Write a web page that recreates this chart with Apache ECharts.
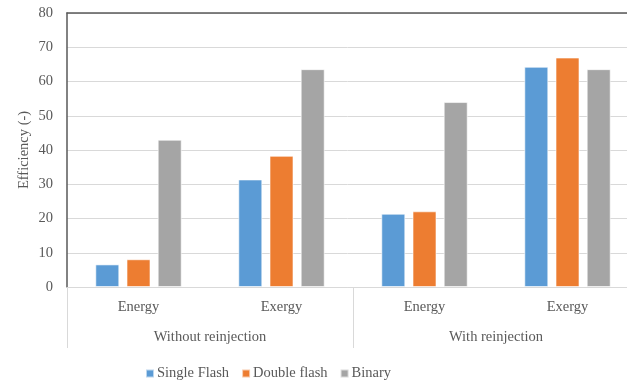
<!DOCTYPE html>
<html><head><meta charset="utf-8">
<script src="https://cdn.jsdelivr.net/npm/echarts@6/dist/echarts.min.js"></script>
<style>html,body{margin:0;padding:0;background:#fff}#c{width:627px;height:380px}</style>
</head><body><div id="c"></div>
<script>
const categories = ["Energy", "Exergy", "Energy", "Exergy"];
const groups = ["Without reinjection", "With reinjection"];
const singleFlash = [6.6, 31.4, 21.4, 64.3];
const doubleFlash = [8.1, 38.3, 22.1, 67.0];
const binary = [43.0, 63.6, 54.0, 63.6];
const seriesNames = ["Single Flash", "Double flash", "Binary"];
const colors = ["#5B9BD5", "#ED7D31", "#A5A5A5"];
const FONT = "Liberation Serif";
const FS = 14.5;
const chart = echarts.init(document.getElementById('c'));
const mk = (name, data, color) => ({
  name, type: 'bar', data, barWidth: 24, barGap: '30%',
  itemStyle: { color, borderColor: 'rgba(255,255,255,0.6)', borderWidth: 1 },
  xAxisIndex: 0, yAxisIndex: 0
});
chart.setOption({
  animation: false,
  textStyle: { fontFamily: FONT },
  grid: { left: 67, top: 13, width: 572, height: 274, containLabel: false, outerBoundsMode: 'none' },
  legend: {
    left: 140, top: 361, itemWidth: 8, itemHeight: 8, itemGap: 12,
    textStyle: { fontFamily: FONT, fontSize: FS, color: '#595959', padding: [0,0,0,-2] },
    icon: 'rect',
    data: seriesNames
  },
  xAxis: [
    { type: 'category', data: categories, position: 'bottom',
      axisLine: { lineStyle: { color: '#D9D9D9' } },
      axisTick: { show: false },
      axisLabel: { fontFamily: FONT, fontSize: FS, color: '#595959', margin: 13 } },
    { type: 'category', data: groups, position: 'bottom', offset: 0,
      axisLine: { show: false },
      axisTick: { show: true, length: 61, alignWithLabel: false, lineStyle: { color: '#D9D9D9' } },
      axisLabel: { fontFamily: FONT, fontSize: FS, color: '#595959', margin: 43 } },
    { type: 'category', data: categories, position: 'top',
      axisLine: { show: true, lineStyle: { color: '#595959', width: 1.5 } },
      axisTick: { show: false }, axisLabel: { show: false } }
  ],
  yAxis: {
    type: 'value', min: 0, max: 80, interval: 10,
    name: 'Efficiency (-)', nameLocation: 'middle', nameGap: 35, nameMoveOverlap: false,
    nameTextStyle: { fontFamily: FONT, fontSize: FS, color: '#595959' },
    axisLine: { show: true, lineStyle: { color: '#595959', width: 1.5 } },
    axisTick: { show: false },
    axisLabel: { fontFamily: FONT, fontSize: FS, color: '#595959', margin: 14 },
    splitLine: { lineStyle: { color: '#D9D9D9' } }
  },
  series: [
    mk(seriesNames[0], singleFlash, colors[0]),
    mk(seriesNames[1], doubleFlash, colors[1]),
    mk(seriesNames[2], binary, colors[2])
  ]
});
</script></body></html>
